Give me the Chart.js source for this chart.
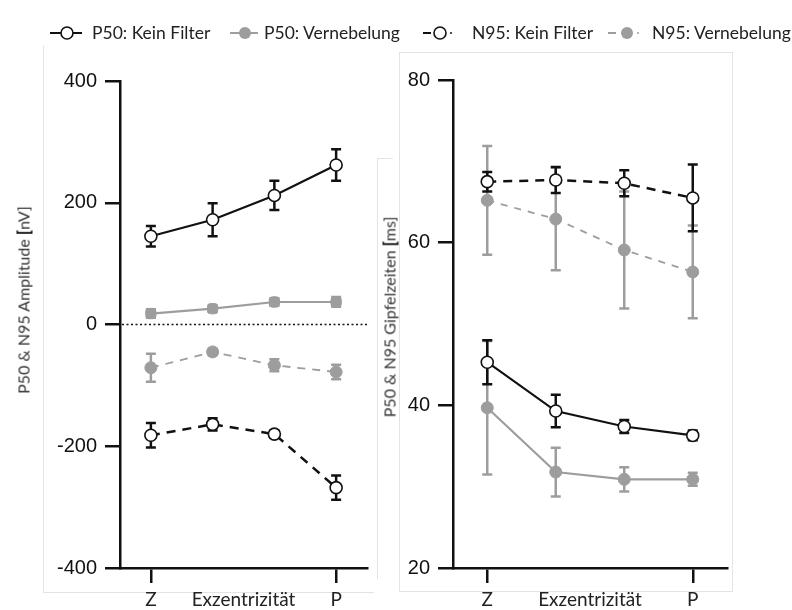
<!DOCTYPE html>
<html>
<head>
<meta charset="utf-8">
<script src="https://cdn.jsdelivr.net/npm/chart.js@4"></script>
<style>
  body { margin: 0; background: #fff; }
  #wrap { position: relative; width: 792px; height: 610px; overflow: hidden; font-family: Lato, sans-serif; color: #222; }
  canvas { position: absolute; top: 0; }
  .box { position: absolute; border: 1px solid #e3e3e3; }
  .ytitle { position: absolute; transform: translate(-50%, -50%) rotate(-90deg); white-space: nowrap; font-size: 16px; font-weight: 400; color: #333; z-index: 5; }
  .ytitle b { font-weight: 900; color: #111; }
  #legend { position: absolute; left: 0; top: 0; z-index: 5; }
  #legend text { font-family: Lato, sans-serif; font-size: 17.5px; fill: #222; }
</style>
</head>
<body>
<div id="wrap">
  <div class="box" style="left:43px;top:46px;width:330px;height:546px;border-top:none;border-right:none"></div>
  <div class="box" style="left:399px;top:52px;width:332px;height:538px"></div>
  <div class="box" style="left:377px;top:158px;width:15px;height:420px;border-right:none;border-bottom:none"></div>

  <svg id="legend" width="792" height="50">
    <line x1="50" y1="33" x2="82" y2="33" stroke="#111" stroke-width="2"/>
    <circle cx="67" cy="33" r="6" fill="#fff" stroke="#111" stroke-width="1.6"/>
    <text x="92" y="39">P50: Kein Filter</text>
    <line x1="230" y1="33" x2="258" y2="33" stroke="#9d9d9d" stroke-width="2"/>
    <circle cx="245" cy="33" r="6" fill="#9d9d9d"/>
    <text x="264" y="39">P50: Vernebelung</text>
    <line x1="423" y1="33" x2="431" y2="33" stroke="#111" stroke-width="2"/>
    <circle cx="440" cy="33" r="6" fill="#fff" stroke="#111" stroke-width="1.6"/>
    <circle cx="451" cy="33" r="1" fill="#111"/>
    <text x="472" y="39">N95: Kein Filter</text>
    <line x1="608" y1="33" x2="616" y2="33" stroke="#9d9d9d" stroke-width="2"/>
    <circle cx="627" cy="33" r="6" fill="#9d9d9d"/>
    <circle cx="638" cy="33" r="1" fill="#9d9d9d"/>
    <text x="652" y="39">N95: Vernebelung</text>
  </svg>

  <canvas id="amp" width="380" height="610" style="left:0"></canvas>
  <canvas id="lat" width="400" height="610" style="left:370px"></canvas>

  <div class="ytitle" style="left:23px;top:300px">P50 &amp; N95 Amplitude <b>[</b>nV]</div>
  <div class="ytitle" style="left:389px;top:317px">P50 &amp; N95 Gipfelzeiten <b>[</b>ms]</div>
</div>
<script>
// eccentricity steps, central (Z) to peripheral (P)
const positions = [1, 2, 3, 4];
const xTickValues = [1, 2.5, 4];
const xTickLabels = ['Z', 'Exzentrizität', 'P'];

// amplitudes [nV], mean and error
const ampP50Kein = [145, 172, 212, 262];
const ampP50KeinErr = [17, 27, 24, 26];
const ampP50Vern = [18, 26, 37, 37];
const ampP50VernErr = [7, 5, 6, 8];
const ampN95Kein = [-182, -164, -180, -268];
const ampN95KeinErr = [20, 10, 6, 20];
const ampN95Vern = [-71, -45, -67, -78];
const ampN95VernErr = [23, 5, 10, 12];
const ampTicks = [-400, -200, 0, 200, 400];

// peak times [ms]
const latP50Kein = [45.3, 39.3, 37.4, 36.3];
const latP50KeinErr = [2.7, 2.0, 0.8, 0.6];
const latP50Vern = [39.7, 31.8, 30.9, 30.9];
const latP50VernErr = [8.2, 3.0, 1.5, 0.8];
const latN95Kein = [67.5, 67.7, 67.3, 65.5];
const latN95KeinErr = [1.2, 1.6, 1.6, 4.1];
const latN95Vern = [65.2, 62.9, 59.1, 56.4];
const latN95VernErr = [6.7, 6.3, 7.2, 5.7];
const latTicks = [20, 40, 60, 80];

const BLACK = '#111';
const GREY = '#9d9d9d';

const points = (values) => values.map((v, i) => ({ x: positions[i], y: v }));

// vertical error bars with caps, drawn just before each dataset so layering follows dataset order
const errorBars = {
    id: 'errorBars',
    beforeDatasetDraw(chart, args) {
        const ds = chart.data.datasets[args.index];
        if (!ds.errors) return;
        const ctx = chart.ctx;
        const yScale = chart.scales.y;
        ctx.save();
        ctx.strokeStyle = ds.borderColor;
        ctx.lineWidth = 2.5;
        ctx.setLineDash([]);
        args.meta.data.forEach((pt, i) => {
            const v = ds.data[i].y, e = ds.errors[i];
            const top = yScale.getPixelForValue(v + e);
            const bot = yScale.getPixelForValue(v - e);
            ctx.beginPath();
            ctx.moveTo(pt.x, top); ctx.lineTo(pt.x, bot);
            ctx.moveTo(pt.x - 5, top); ctx.lineTo(pt.x + 5, top);
            ctx.moveTo(pt.x - 5, bot); ctx.lineTo(pt.x + 5, bot);
            ctx.stroke();
        });
        ctx.restore();
    }
};

// dotted reference line at zero amplitude
const zeroLine = {
    id: 'zeroLine',
    beforeDatasetsDraw(chart) {
        const { ctx, chartArea, scales } = chart;
        const y = scales.y.getPixelForValue(0);
        ctx.save();
        ctx.strokeStyle = BLACK;
        ctx.lineWidth = 1.5;
        ctx.setLineDash([2, 2.5]);
        ctx.beginPath();
        ctx.moveTo(chartArea.left + 2, y);
        ctx.lineTo(chartArea.right, y);
        ctx.stroke();
        ctx.restore();
    }
};

function series(values, errors, color, open, dashed, style, dash) {
    return {
        data: points(values),
        errors: errors,
        borderColor: color,
        borderWidth: dashed ? (color === GREY ? 1.8 : 2.5) : 2.2,
        borderDash: dashed ? dash : [],
        pointStyle: style || 'circle',
        pointRadius: 6,
        pointBorderWidth: open ? 1.6 : 1,
        pointBackgroundColor: open ? '#fff' : color,
        pointBorderColor: color,
        tension: 0,
        fill: false
    };
}

function makeChart(canvasId, datasets, yMin, yMax, yTicks, area, extraPlugins) {
    return new Chart(document.getElementById(canvasId).getContext('2d'), {
        type: 'line',
        data: { datasets: datasets },
        options: {
            responsive: false,
            animation: false,
            events: [],
            layout: { padding: { left: 0, top: area.top, right: area.right, bottom: 0 } },
            plugins: { legend: { display: false }, tooltip: { enabled: false } },
            scales: {
                x: {
                    type: 'linear',
                    min: 0.5,
                    max: 4.5,
                    afterBuildTicks: (s) => { s.ticks = xTickValues.map(v => ({ value: v })); },
                    afterFit: (s) => { s.height = 610 - area.bottom; },
                    border: { color: BLACK, width: 2.5 },
                    grid: {
                        drawOnChartArea: false,
                        tickLength: 15,
                        lineWidth: 2.5,
                        color: (c) => c.index === 1 ? 'rgba(0,0,0,0)' : BLACK
                    },
                    ticks: {
                        autoSkip: false,
                        maxRotation: 0,
                        padding: 5,
                        color: '#222',
                        font: { family: 'Lato', size: 19 },
                        callback: (v) => xTickLabels[xTickValues.indexOf(v)]
                    }
                },
                y: {
                    min: yMin,
                    max: yMax,
                    afterBuildTicks: (s) => { s.ticks = yTicks.map(v => ({ value: v })); },
                    afterFit: (s) => { s.width = area.left; },
                    border: { color: BLACK, width: 2.5 },
                    grid: { drawOnChartArea: false, tickLength: 15, lineWidth: 2.5, color: BLACK },
                    ticks: {
                        padding: 8,
                        color: '#111',
                        font: { family: 'Liberation Sans', size: 20 }
                    }
                }
            }
        },
        plugins: [errorBars].concat(extraPlugins || [])
    });
}

makeChart('amp', [
    series(ampP50Kein, ampP50KeinErr, BLACK, true, false),
    series(ampN95Kein, ampN95KeinErr, BLACK, true, true, 'circle', [9, 7]),
    series(ampP50Vern, ampP50VernErr, GREY, false, false, 'rectRounded'),
    series(ampN95Vern, ampN95VernErr, GREY, false, true, 'circle', [8, 7])
], -400, 400, ampTicks, { left: 120, top: 81, right: 13, bottom: 568 }, [zeroLine]);

makeChart('lat', [
    series(latP50Kein, latP50KeinErr, BLACK, true, false),
    series(latN95Kein, latN95KeinErr, BLACK, true, true, 'circle', [9, 7]),
    series(latP50Vern, latP50VernErr, GREY, false, false),
    series(latN95Vern, latN95VernErr, GREY, false, true, 'circle', [7, 7])
], 20, 80, latTicks, { left: 83, top: 80, right: 43, bottom: 568 });
</script>
</body>
</html>
